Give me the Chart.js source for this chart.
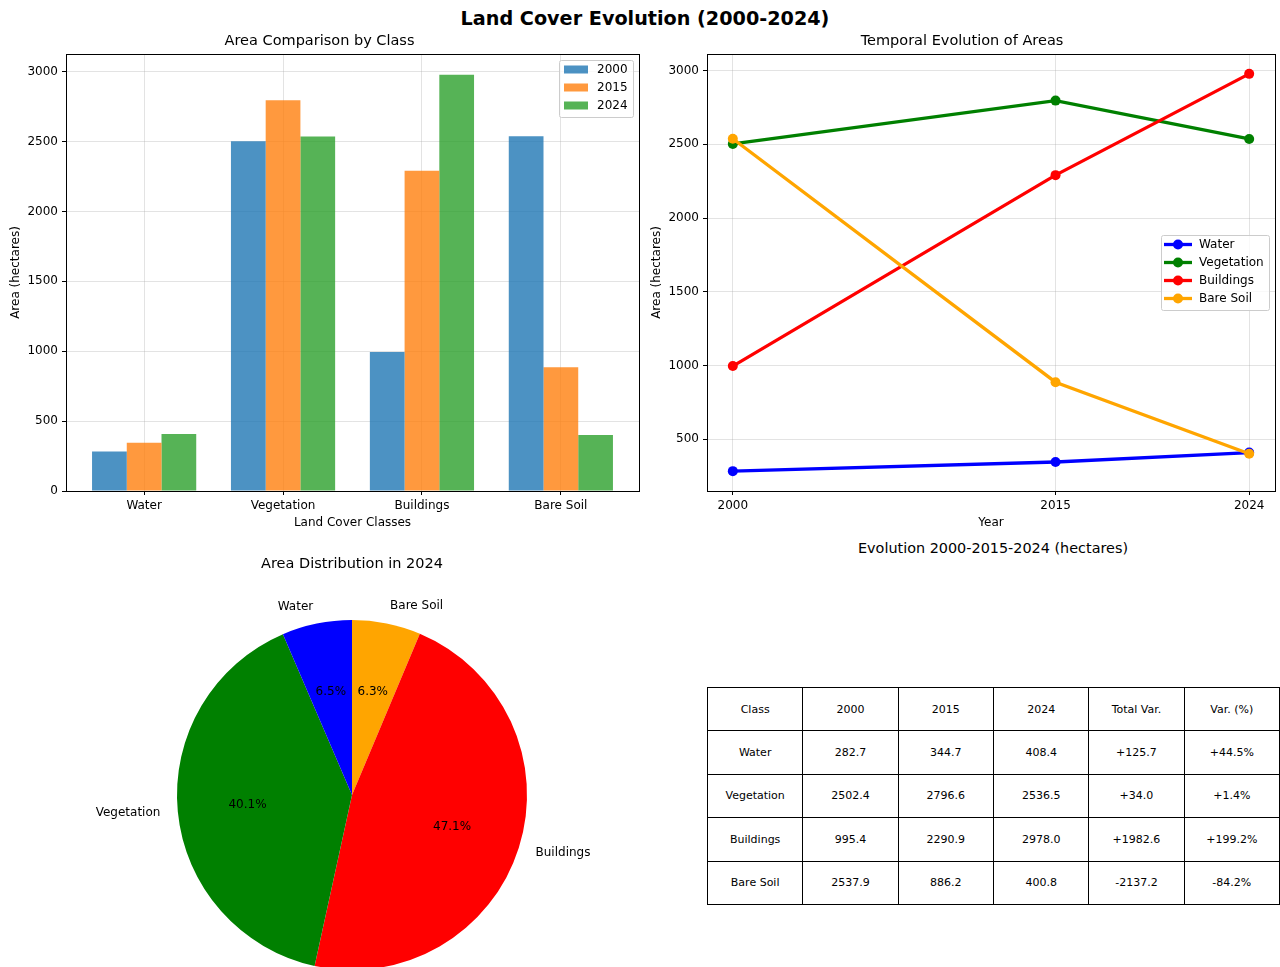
<!DOCTYPE html>
<html>
<head>
<meta charset="utf-8">
<script src="https://cdn.jsdelivr.net/npm/chart.js@4.4.0/dist/chart.umd.min.js"></script>
<style>
  html, body { margin: 0; padding: 0; width: 1280px; height: 967px; overflow: hidden; background: #fff;
               font-family: "DejaVu Sans", sans-serif; color: #000; }
  canvas { position: absolute; }
  #mainTitle { position: absolute; left: 0; width: 1290px; top: 7px; text-align: center;
               font-weight: bold; font-size: 19.2px; line-height: 24px; }
  #tableTitle { position: absolute; left: 707px; width: 572px; top: 540px; text-align: center;
                font-size: 14.4px; line-height: 17px; }
  #evoTable { position: absolute; left: 707px; top: 687px; width: 573px; height: 218px;
              border-collapse: collapse; font-size: 11px; table-layout: fixed; }
  #evoTable td { border: 1px solid #000; text-align: center; padding: 0; }
</style>
</head>
<body>
<div id="mainTitle">Land Cover Evolution (2000-2024)</div>
<canvas id="barChart" width="645" height="510" style="left:0;top:30px;"></canvas>
<canvas id="lineChart" width="635" height="510" style="left:645px;top:30px;"></canvas>
<canvas id="pieChart" width="600" height="500" style="left:52px;top:545px;"></canvas>
<div id="tableTitle">Evolution 2000-2015-2024 (hectares)</div>
<table id="evoTable"></table>

<script>
// ---- data ----
var categories = ["Water", "Vegetation", "Buildings", "Bare Soil"];
var years = [2000, 2015, 2024];
var area2000 = [282.7, 2502.4, 995.4, 2537.9];
var area2015 = [344.7, 2796.6, 2290.9, 886.2];
var area2024 = [408.4, 2536.5, 2978.0, 400.8];
var totalVar = ["+125.7", "+34.0", "+1982.6", "-2137.2"];
var varPct = ["+44.5%", "+1.4%", "+199.2%", "-84.2%"];
var tableHeader = ["Class", "2000", "2015", "2024", "Total Var.", "Var. (%)"];
var barTicks = [0, 500, 1000, 1500, 2000, 2500, 3000];
var lineTicks = [500, 1000, 1500, 2000, 2500, 3000];

var barColors = ["rgba(31,119,180,0.8)", "rgba(255,127,14,0.8)", "rgba(44,160,44,0.8)"];
var classColors = ["#0000ff", "#008000", "#ff0000", "#ffa500"];

var FONT = '"DejaVu Sans", sans-serif';
var GRID = "rgba(176,176,176,0.35)";
var seriesByYear = [area2000, area2015, area2024];
var categoryPos = categories.map(function (c, i) { return i; });

// ---- small plugins ----
var framePlugin = {
  id: "frame",
  afterDraw: function (chart) {
    var a = chart.chartArea, ctx = chart.ctx;
    ctx.save();
    ctx.strokeStyle = "#000";
    ctx.lineWidth = 1;
    var l = Math.round(a.left) + 0.5, t = Math.round(a.top) + 0.5;
    ctx.strokeRect(l, t, Math.round(a.right) - Math.round(a.left), Math.round(a.bottom) - Math.round(a.top));
    ctx.restore();
  }
};

var innerLegend = {
  id: "innerLegend",
  afterDraw: function (chart, args, opts) {
    var ctx = chart.ctx, a = chart.chartArea, sets = chart.data.datasets;
    ctx.save();
    ctx.font = "12px " + FONT;
    var textW = 0;
    sets.forEach(function (d) { textW = Math.max(textW, ctx.measureText(d.label).width); });
    var isLine = opts.handle === "line";
    var rowH = 18, pad = isLine ? 3 : 5, handleW = isLine ? 28 : 24, gap = isLine ? 7 : 9;
    var w = Math.round(pad + handleW + gap + textW + 5);
    var h = Math.round(sets.length * rowH + 3);
    var x = Math.round(a.right - 6 - w);
    var y = opts.place === "right" ? Math.round((a.top + a.bottom) / 2 - h / 2) : Math.round(a.top + 6);
    ctx.fillStyle = "rgba(255,255,255,0.8)";
    ctx.strokeStyle = "#cccccc";
    ctx.lineWidth = 1;
    ctx.beginPath();
    ctx.roundRect(x + 0.5, y + 0.5, w, h, 2);
    ctx.fill();
    ctx.stroke();
    sets.forEach(function (d, i) {
      var cy = y + 9.5 + rowH * i;
      var hx = x + pad;
      if (isLine) {
        ctx.strokeStyle = d.borderColor;
        ctx.lineWidth = d.borderWidth;
        ctx.beginPath();
        ctx.moveTo(hx, cy);
        ctx.lineTo(hx + handleW, cy);
        ctx.stroke();
        ctx.fillStyle = d.borderColor;
        ctx.beginPath();
        ctx.arc(hx + handleW / 2, cy, d.pointRadius, 0, Math.PI * 2);
        ctx.fill();
      } else {
        ctx.fillStyle = d.backgroundColor;
        ctx.fillRect(hx, cy - 4, handleW, 8);
      }
      ctx.fillStyle = "#000";
      ctx.textBaseline = "middle";
      ctx.textAlign = "left";
      ctx.fillText(d.label, hx + handleW + gap, cy);
    });
    ctx.restore();
  }
};

var pieText = {
  id: "pieText",
  afterDatasetsDraw: function (chart) {
    var ctx = chart.ctx, meta = chart.getDatasetMeta(0), ds = chart.data.datasets[0];
    var total = ds.data.reduce(function (s, v) { return s + v; }, 0);
    ctx.save();
    ctx.font = "12px " + FONT;
    ctx.textBaseline = "middle";
    ctx.fillStyle = "#000";
    meta.data.forEach(function (arc, i) {
      var p = arc.getProps(["x", "y", "startAngle", "endAngle", "outerRadius"], true);
      var mid = (p.startAngle + p.endAngle) / 2;
      var c = Math.cos(mid), s = Math.sin(mid);
      ctx.textAlign = "center";
      ctx.fillText((ds.data[i] / total * 100).toFixed(1) + "%", p.x + c * p.outerRadius * 0.6, p.y + s * p.outerRadius * 0.6);
      ctx.textAlign = c < 0 ? "right" : "left";
      ctx.fillText(chart.data.labels[i], p.x + c * p.outerRadius * 1.1, p.y + s * p.outerRadius * 1.1);
    });
    ctx.restore();
  }
};

function tickFont() { return { family: FONT, size: 12 }; }
function titleFont() { return { family: FONT, size: 14.5, weight: "normal" }; }
function plain(v) { return String(v); }
function fixedTicks(list) {
  return function (s) { s.ticks = list.map(function (v) { return { value: v }; }); };
}

// ---- bar chart ----
new Chart(document.getElementById("barChart"), {
  type: "bar",
  data: {
    labels: categoryPos,
    datasets: years.map(function (yr, k) {
      return { label: String(yr), data: seriesByYear[k], backgroundColor: barColors[k], borderWidth: 0 };
    })
  },
  options: {
    responsive: false,
    animation: false,
    layout: { padding: { right: 6 } },
    datasets: { bar: { categoryPercentage: 0.75, barPercentage: 1.0 } },
    plugins: {
      legend: { display: false },
      tooltip: { enabled: false },
      title: { display: true, text: "Area Comparison by Class", font: titleFont(), color: "#000", padding: { top: 2.3, bottom: 4.3 } },
      innerLegend: { handle: "patch", place: "topright" }
    },
    scales: {
      x: {
        type: "linear", min: -0.5625, max: 3.5625, offset: false,
        grid: { offset: false, color: GRID, tickColor: "#000", tickLength: 4 },
        border: { display: false },
        afterBuildTicks: fixedTicks(categoryPos),
        ticks: { callback: function (v) { return categories[v]; }, font: tickFont(), color: "#000", padding: 3.5, maxRotation: 0, autoSkip: false },
        title: { display: true, text: "Land Cover Classes", font: tickFont(), color: "#000", padding: { top: 0, bottom: 10 } },
        afterFit: function (s) { s.height = 49; }
      },
      y: {
        min: 0, max: 3127,
        grid: { color: GRID, tickColor: "#000", tickLength: 4 },
        border: { display: false },
        afterBuildTicks: fixedTicks(barTicks),
        ticks: { callback: plain, font: tickFont(), color: "#000", padding: 4, autoSkip: false },
        title: { display: true, text: "Area (hectares)", font: tickFont(), color: "#000", padding: { top: 9, bottom: 0 } },
        afterFit: function (s) { s.width = 66; }
      }
    }
  },
  plugins: [framePlugin, innerLegend]
});

// ---- line chart ----
new Chart(document.getElementById("lineChart"), {
  type: "line",
  data: {
    labels: years,
    datasets: categories.map(function (name, i) {
      return {
        label: name,
        data: [area2000[i], area2015[i], area2024[i]],
        borderColor: classColors[i],
        backgroundColor: classColors[i],
        borderWidth: 3.3,
        pointRadius: 5,
        pointBorderWidth: 0,
        pointBackgroundColor: classColors[i],
        tension: 0,
        order: categories.length - i
      };
    })
  },
  options: {
    responsive: false,
    animation: false,
    layout: { padding: { right: 1 } },
    plugins: {
      legend: { display: false },
      tooltip: { enabled: false },
      title: { display: true, text: "Temporal Evolution of Areas", font: titleFont(), color: "#000", padding: { top: 2.3, bottom: 4.3 } },
      innerLegend: { handle: "line", place: "right" }
    },
    scales: {
      x: {
        type: "linear", min: 1998.8, max: 2025.2,
        grid: { color: GRID, tickColor: "#000", tickLength: 4 },
        border: { display: false },
        afterBuildTicks: fixedTicks(years),
        ticks: { callback: plain, font: tickFont(), color: "#000", padding: 3.5, maxRotation: 0, autoSkip: false },
        title: { display: true, text: "Year", font: tickFont(), color: "#000", padding: { top: 0, bottom: 10 } },
        afterFit: function (s) { s.height = 49; }
      },
      y: {
        min: 147.9, max: 3112.8,
        grid: { color: GRID, tickColor: "#000", tickLength: 4 },
        border: { display: false },
        afterBuildTicks: fixedTicks(lineTicks),
        ticks: { callback: plain, font: tickFont(), color: "#000", padding: 4, autoSkip: false },
        title: { display: true, text: "Area (hectares)", font: tickFont(), color: "#000", padding: { top: 5, bottom: 0 } },
        afterFit: function (s) { s.width = 62; }
      }
    }
  },
  plugins: [framePlugin, innerLegend]
});

// ---- pie chart (clockwise in Chart.js, so the class order is reversed) ----
var pieOrder = [3, 2, 1, 0];
new Chart(document.getElementById("pieChart"), {
  type: "pie",
  data: {
    labels: pieOrder.map(function (i) { return categories[i]; }),
    datasets: [{
      data: pieOrder.map(function (i) { return area2024[i]; }),
      backgroundColor: pieOrder.map(function (i) { return classColors[i]; }),
      borderWidth: 0
    }]
  },
  options: {
    responsive: false,
    animation: false,
    layout: { padding: { left: 125, right: 125, top: 0, bottom: 75 } },
    plugins: {
      legend: { display: false },
      tooltip: { enabled: false },
      title: { display: true, text: "Area Distribution in 2024", font: titleFont(), color: "#000", padding: { top: 11, bottom: 46.6 } }
    }
  },
  plugins: [pieText]
});

// ---- table ----
var table = document.getElementById("evoTable");
var rows = [tableHeader];
categories.forEach(function (name, i) {
  rows.push([name, area2000[i].toFixed(1), area2015[i].toFixed(1), area2024[i].toFixed(1), totalVar[i], varPct[i]]);
});
rows.forEach(function (r) {
  var tr = document.createElement("tr");
  r.forEach(function (cell) {
    var td = document.createElement("td");
    td.textContent = cell;
    tr.appendChild(td);
  });
  table.appendChild(tr);
});
</script>
</body>
</html>
